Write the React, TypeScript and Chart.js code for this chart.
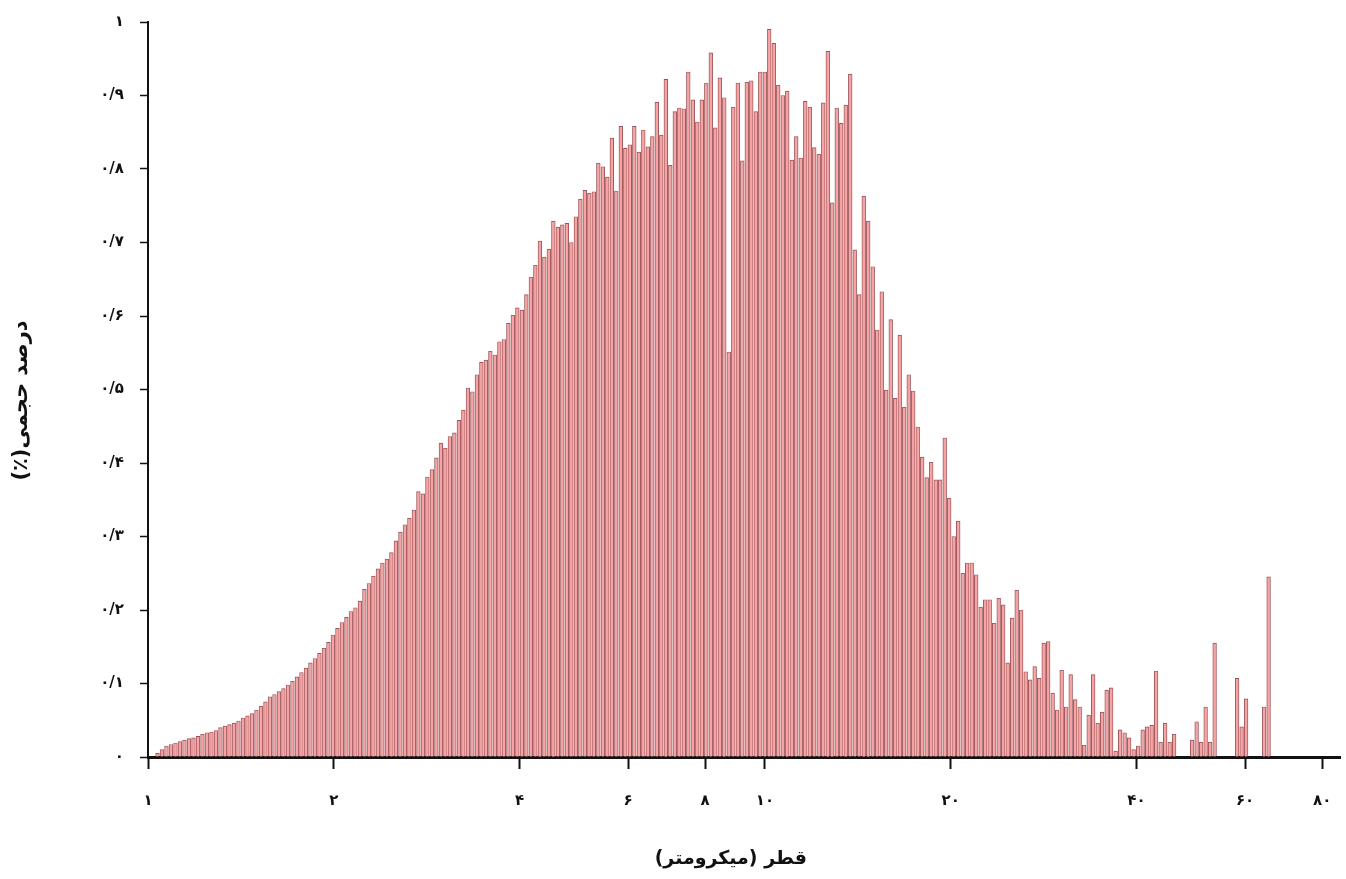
import { useEffect, useRef } from 'react';
import { Chart, registerables } from 'chart.js';

Chart.register(...registerables);

// Geometric (log-spaced) size bins, in micrometres
const BIN_FIRST_UM = 1.036;
const BIN_RATIO = 1.01693;

// Volume percent per bin
const VOLUME_PERCENT = [
  0.005, 0.01, 0.015, 0.017, 0.019, 0.021, 0.023, 0.025, 0.026, 0.028,
  0.031, 0.033, 0.034, 0.036, 0.04, 0.042, 0.044, 0.046, 0.049, 0.053,
  0.056, 0.059, 0.064, 0.069, 0.075, 0.082, 0.085, 0.089, 0.093, 0.098,
  0.103, 0.109, 0.115, 0.121, 0.128, 0.134, 0.141, 0.148, 0.156, 0.166,
  0.175, 0.183, 0.19, 0.198, 0.203, 0.212, 0.228, 0.236, 0.246, 0.256,
  0.264, 0.269, 0.278, 0.294, 0.306, 0.316, 0.325, 0.336, 0.361, 0.358,
  0.381, 0.391, 0.407, 0.427, 0.42, 0.436, 0.441, 0.458, 0.472, 0.502,
  0.497, 0.52, 0.537, 0.54, 0.552, 0.547, 0.565, 0.568, 0.59, 0.601,
  0.611, 0.608, 0.629, 0.653, 0.669, 0.702, 0.68, 0.691, 0.729, 0.721,
  0.724, 0.726, 0.7, 0.735, 0.759, 0.771, 0.767, 0.769, 0.808, 0.803,
  0.789, 0.842, 0.77, 0.858, 0.828, 0.833, 0.858, 0.823, 0.853, 0.83,
  0.844, 0.891, 0.846, 0.922, 0.805, 0.878, 0.883, 0.882, 0.932, 0.894,
  0.864, 0.894, 0.917, 0.958, 0.856, 0.924, 0.897, 0.551, 0.884, 0.917,
  0.811, 0.918, 0.92, 0.878, 0.932, 0.932, 0.99, 0.971, 0.914, 0.9,
  0.906, 0.812, 0.844, 0.815, 0.892, 0.884, 0.829, 0.82, 0.89, 0.96,
  0.754, 0.883, 0.862, 0.887, 0.929, 0.69, 0.629, 0.763, 0.729, 0.667,
  0.581, 0.633, 0.499, 0.595, 0.488, 0.574, 0.476, 0.52, 0.498, 0.449,
  0.408, 0.38, 0.401, 0.377, 0.377, 0.434, 0.352, 0.3, 0.321, 0.25,
  0.264, 0.264, 0.248, 0.204, 0.214, 0.214, 0.182, 0.216, 0.207, 0.128,
  0.189, 0.227, 0.2, 0.116, 0.105, 0.123, 0.107, 0.155, 0.157, 0.087,
  0.064, 0.118, 0.068, 0.112, 0.078, 0.068, 0.016, 0.057, 0.112, 0.046,
  0.061, 0.091, 0.094, 0.008, 0.037, 0.033, 0.026, 0.01, 0.015, 0.037,
  0.041, 0.043, 0.117, 0.02, 0.046, 0.02, 0.031, 0, 0, 0,
  0.023, 0.048, 0.02, 0.068, 0.02, 0.155, 0, 0, 0, 0,
  0.107, 0.041, 0.079, 0, 0, 0, 0.068, 0.245,
];

const X_TICK_VALUES = [1, 2, 4, 6, 8, 10, 20, 40, 60, 80];
const X_TICK_LABELS = ['۱', '۲', '۴', '۶', '۸', '۱۰', '۲۰', '۴۰', '۶۰', '۸۰'];
const Y_TICK_LABELS = ['۰', '۰/۱', '۰/۲', '۰/۳', '۰/۴', '۰/۵', '۰/۶', '۰/۷', '۰/۸', '۰/۹', '۱'];
const X_TITLE = '\u00A0\u00A0\u00A0\u00A0قطر (میکرومتر)';
const Y_TITLE = '\u00A0\u00A0\u00A0درصد حجمی(٪)';

const DIAMETERS = VOLUME_PERCENT.map((_, i) => BIN_FIRST_UM * Math.pow(BIN_RATIO, i));

export default function App() {
  const canvasRef = useRef<HTMLCanvasElement | null>(null);

  useEffect(() => {
    const canvas = canvasRef.current;
    if (!canvas) return;
    const font = "'DejaVu Sans', 'Noto Sans', sans-serif";
    const chart = new Chart(canvas, {
      type: 'bar',
      data: {
        datasets: [
          {
            data: VOLUME_PERCENT.map((v, i) => ({ x: DIAMETERS[i], y: v })),
            backgroundColor: '#f4a4a4',
            borderColor: 'rgba(130,40,45,0.8)',
            borderWidth: 0.9,
            barThickness: 3.7,
            borderSkipped: 'start',
          },
        ],
      },
      options: {
        animation: false,
        responsive: false,
        maintainAspectRatio: false,
        layout: { padding: { top: 22, right: 6, bottom: 0, left: 0 } },
        plugins: {
          legend: { display: false },
          tooltip: { enabled: false },
        },
        scales: {
          x: {
            type: 'logarithmic',
            min: 1,
            max: 85.5,
            offset: false,
            afterFit: (scale: any) => {
              scale.height = 122;
              scale.paddingLeft = 0;
              scale.paddingRight = 0;
            },
            afterBuildTicks: (scale: any) => {
              scale.ticks = X_TICK_VALUES.map((v) => ({ value: v }));
            },
            grid: {
              offset: false,
              drawOnChartArea: false,
              drawTicks: true,
              tickLength: 12,
              tickWidth: 2,
              tickColor: '#111',
            },
            border: { display: true, color: '#111', width: 3 },
            ticks: {
              autoSkip: false,
              maxRotation: 0,
              padding: 23,
              color: '#111',
              font: { family: font, size: 15, weight: 'bold' },
              callback: (_v: any, index: number) => X_TICK_LABELS[index],
            },
            title: {
              display: true,
              text: X_TITLE,
              color: '#111',
              padding: { top: 0, bottom: 9 },
              font: { family: font, size: 19, weight: 'bold' },
            },
          },
          y: {
            type: 'linear',
            min: 0,
            max: 1,
            afterFit: (scale: any) => {
              scale.width = 148;
              scale.paddingTop = 0;
              scale.paddingBottom = 0;
            },
            grid: {
              drawOnChartArea: false,
              drawTicks: true,
              tickLength: 8,
              tickWidth: 1.5,
              tickColor: '#111',
            },
            border: { display: true, color: '#111', width: 2 },
            ticks: {
              stepSize: 0.1,
              padding: 16,
              color: '#111',
              font: { family: font, size: 15, weight: 'bold' },
              callback: (v: any) => Y_TICK_LABELS[Math.round(Number(v) * 10)],
            },
            title: {
              display: true,
              text: Y_TITLE,
              color: '#111',
              padding: { top: 9, bottom: 0 },
              font: { family: font, size: 21, weight: 'bold' },
            },
          },
        },
      },
    });
    return () => chart.destroy();
  }, []);

  return (
    <div style={{ position: 'absolute', left: 0, top: 0, width: 1346, height: 879, background: '#fff' }}>
      <canvas ref={canvasRef} width={1346} height={879} dir="rtl" style={{ display: 'block' }} />
    </div>
  );
}
